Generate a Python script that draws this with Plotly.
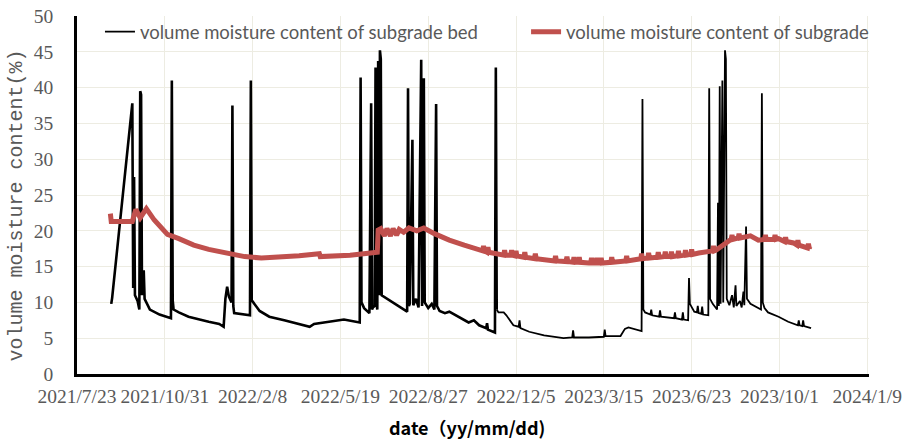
import plotly.graph_objects as go

# ---------------- data ----------------
bed_points = [
    ("2021-08-31", 9.8), ("2021-09-01", 10.6), ("2021-09-24", 37.8), ("2021-09-25", 12.0),
    ("2021-09-26", 27.5), ("2021-09-27", 11.0), ("2021-09-30", 10.2), ("2021-10-02", 9.0),
    ("2021-10-03", 39.5), ("2021-10-04", 39.0), ("2021-10-05", 11.0), ("2021-10-07", 14.5),
    ("2021-10-08", 10.5), ("2021-10-14", 9.0), ("2021-10-25", 8.3), ("2021-11-05", 7.9),
    ("2021-11-07", 7.8), ("2021-11-08", 41.0), ("2021-11-09", 10.3), ("2021-11-10", 9.0),
    ("2021-11-16", 8.6), ("2021-11-27", 8.0), ("2021-12-09", 7.6), ("2021-12-20", 7.3),
    ("2022-01-01", 7.0), ("2022-01-06", 6.6), ("2022-01-08", 10.5), ("2022-01-10", 12.2),
    ("2022-01-12", 10.8), ("2022-01-15", 10.0), ("2022-01-16", 37.5), ("2022-01-17", 9.5),
    ("2022-01-18", 8.5), ("2022-01-30", 8.3), ("2022-02-05", 8.2), ("2022-02-06", 41.0),
    ("2022-02-07", 10.3), ("2022-02-16", 8.8), ("2022-02-27", 8.0), ("2022-03-16", 7.5),
    ("2022-04-02", 7.0), ("2022-04-14", 6.6), ("2022-04-19", 7.0), ("2022-05-06", 7.3),
    ("2022-05-23", 7.6), ("2022-06-10", 7.2), ("2022-06-11", 41.4), ("2022-06-12", 10.0),
    ("2022-06-15", 9.2), ("2022-06-21", 8.5), ("2022-06-23", 37.8), ("2022-06-24", 9.0),
    ("2022-06-25", 9.3), ("2022-06-27", 9.5), ("2022-06-28", 42.8), ("2022-06-29", 10.0),
    ("2022-06-30", 9.0), ("2022-07-01", 43.7), ("2022-07-02", 11.0), ("2022-07-03", 45.2),
    ("2022-07-04", 44.0), ("2022-07-05", 11.0), ("2022-08-03", 8.7), ("2022-08-04", 39.9),
    ("2022-08-05", 9.5), ("2022-08-06", 9.8), ("2022-08-09", 32.7), ("2022-08-10", 9.6),
    ("2022-08-13", 10.5), ("2022-08-16", 9.3), ("2022-08-19", 43.9), ("2022-08-20", 9.5),
    ("2022-08-22", 41.3), ("2022-08-23", 10.0), ("2022-08-27", 9.2), ("2022-08-31", 9.8),
    ("2022-09-03", 9.0), ("2022-09-05", 37.7), ("2022-09-06", 9.5), ("2022-09-09", 8.8),
    ("2022-09-15", 8.5), ("2022-09-20", 8.7), ("2022-10-01", 8.0), ("2022-10-12", 7.2),
    ("2022-10-18", 7.5), ("2022-10-24", 6.8), ("2022-11-01", 6.4), ("2022-11-02", 7.1),
    ("2022-11-03", 6.2), ("2022-11-11", 5.8), ("2022-11-12", 42.8), ("2022-11-13", 9.0),
    ("2022-11-15", 8.6), ("2022-11-21", 8.6), ("2022-11-24", 8.2), ("2022-12-02", 6.8),
    ("2022-12-08", 6.6), ("2022-12-09", 7.5), ("2022-12-10", 6.4), ("2022-12-20", 5.9),
    ("2023-01-06", 5.4), ("2023-01-28", 5.0), ("2023-02-07", 5.1), ("2023-02-08", 6.1),
    ("2023-02-09", 5.1), ("2023-02-26", 5.1), ("2023-03-15", 5.2), ("2023-03-16", 6.2),
    ("2023-03-17", 5.3), ("2023-04-03", 5.3), ("2023-04-08", 6.3), ("2023-04-12", 6.5),
    ("2023-04-27", 6.0), ("2023-04-28", 38.4), ("2023-04-29", 9.0), ("2023-05-01", 8.6),
    ("2023-05-07", 8.3), ("2023-05-08", 9.0), ("2023-05-09", 8.2), ("2023-05-17", 8.0),
    ("2023-05-18", 8.9), ("2023-05-19", 8.0), ("2023-06-03", 7.8), ("2023-06-04", 8.6),
    ("2023-06-05", 7.8), ("2023-06-12", 7.6), ("2023-06-13", 8.6), ("2023-06-14", 7.6),
    ("2023-06-19", 7.5), ("2023-06-20", 13.4), ("2023-06-21", 9.8), ("2023-06-26", 8.7),
    ("2023-06-29", 8.6), ("2023-06-30", 9.5), ("2023-07-01", 8.5), ("2023-07-04", 8.4),
    ("2023-07-05", 9.4), ("2023-07-06", 8.3), ("2023-07-12", 8.2), ("2023-07-13", 39.9),
    ("2023-07-14", 10.5), ("2023-07-17", 9.8), ("2023-07-22", 9.0), ("2023-07-23", 23.9),
    ("2023-07-24", 9.5), ("2023-07-25", 40.2), ("2023-07-26", 9.8), ("2023-07-28", 41.0),
    ("2023-07-29", 10.0), ("2023-07-31", 45.2), ("2023-08-01", 44.0), ("2023-08-02", 10.5),
    ("2023-08-05", 9.6), ("2023-08-08", 11.0), ("2023-08-10", 9.3), ("2023-08-12", 12.4),
    ("2023-08-13", 9.5), ("2023-08-17", 10.2), ("2023-08-19", 9.3), ("2023-08-21", 11.5),
    ("2023-08-22", 9.6), ("2023-08-24", 20.6), ("2023-08-25", 10.5), ("2023-08-29", 9.8),
    ("2023-09-05", 9.4), ("2023-09-10", 9.0), ("2023-09-11", 39.2), ("2023-09-12", 10.0),
    ("2023-09-14", 9.2), ("2023-09-18", 8.6), ("2023-09-30", 8.0), ("2023-10-11", 7.3),
    ("2023-10-22", 6.8), ("2023-10-23", 7.5), ("2023-10-24", 6.8), ("2023-10-27", 6.7),
    ("2023-10-28", 7.5), ("2023-10-29", 6.7), ("2023-11-06", 6.4),
]

sub_points = [
    ("2021-08-30", 22.4), ("2021-08-31", 21.3), ("2021-09-24", 21.3), ("2021-09-28", 23.0),
    ("2021-10-03", 21.8), ("2021-10-10", 23.1), ("2021-10-19", 21.5), ("2021-11-03", 19.5),
    ("2021-11-16", 18.9), ("2021-12-03", 18.0), ("2021-12-20", 17.4), ("2022-01-10", 16.9),
    ("2022-01-30", 16.4), ("2022-02-18", 16.2), ("2022-03-10", 16.3), ("2022-04-02", 16.5),
    ("2022-04-25", 16.8), ("2022-04-26", 16.4), ("2022-05-30", 16.6), ("2022-06-30", 17.0),
    ("2022-07-01", 20.1), ("2022-07-04", 20.3), ("2022-07-08", 19.3), ("2022-07-11", 20.3),
    ("2022-07-15", 19.3), ("2022-07-18", 20.3), ("2022-07-22", 19.4), ("2022-07-25", 20.2),
    ("2022-07-30", 19.8), ("2022-08-05", 20.4), ("2022-08-14", 20.0), ("2022-08-22", 20.4),
    ("2022-09-03", 19.6), ("2022-09-20", 18.7), ("2022-10-07", 18.0), ("2022-10-24", 17.3),
    ("2022-10-28", 17.2), ("2022-10-29", 17.9), ("2022-10-30", 17.2),
    ("2022-11-02", 17.0), ("2022-11-03", 17.7), ("2022-11-04", 17.0),
    ("2022-11-10", 16.8),
    ("2022-11-21", 16.6), ("2022-11-22", 17.3), ("2022-11-23", 16.6),
    ("2022-11-29", 16.6), ("2022-11-30", 17.3), ("2022-12-01", 16.6),
    ("2022-12-04", 16.5), ("2022-12-05", 17.2), ("2022-12-06", 16.5),
    ("2022-12-14", 16.3), ("2022-12-15", 17.0), ("2022-12-16", 16.3),
    ("2022-12-26", 16.1), ("2022-12-27", 16.8), ("2022-12-28", 16.1),
    ("2023-01-18", 15.8), ("2023-01-19", 16.5), ("2023-01-20", 15.8),
    ("2023-01-31", 15.7), ("2023-02-01", 16.4), ("2023-02-02", 15.7),
    ("2023-02-08", 15.6), ("2023-02-09", 16.3), ("2023-02-10", 15.6),
    ("2023-02-14", 15.6), ("2023-02-15", 16.3), ("2023-02-16", 15.6),
    ("2023-02-26", 15.5),
    ("2023-02-28", 15.5), ("2023-03-01", 16.2), ("2023-03-02", 15.5),
    ("2023-03-06", 15.5), ("2023-03-07", 16.2), ("2023-03-08", 15.5),
    ("2023-03-11", 15.5), ("2023-03-12", 16.2), ("2023-03-13", 15.5),
    ("2023-03-23", 15.6), ("2023-03-24", 16.3), ("2023-03-25", 15.6),
    ("2023-04-09", 15.8), ("2023-04-10", 16.5), ("2023-04-11", 15.8),
    ("2023-04-26", 16.1), ("2023-04-27", 16.8), ("2023-04-28", 16.1),
    ("2023-05-04", 16.2), ("2023-05-05", 16.9), ("2023-05-06", 16.2),
    ("2023-05-15", 16.3), ("2023-05-16", 17.0), ("2023-05-17", 16.3),
    ("2023-05-23", 16.4), ("2023-05-24", 17.1), ("2023-05-25", 16.4),
    ("2023-05-30", 16.4), ("2023-05-31", 17.1), ("2023-06-01", 16.4),
    ("2023-06-07", 16.5), ("2023-06-08", 17.2), ("2023-06-09", 16.5),
    ("2023-06-15", 16.6), ("2023-06-16", 17.3), ("2023-06-17", 16.6),
    ("2023-06-22", 16.7), ("2023-06-23", 17.4), ("2023-06-24", 16.7),
    ("2023-07-01", 16.9),
    ("2023-07-17", 17.2), ("2023-07-18", 17.9), ("2023-07-19", 17.2),
    ("2023-07-21", 17.3), ("2023-08-02", 18.5),
    ("2023-08-07", 18.8), ("2023-08-08", 19.4), ("2023-08-09", 18.8),
    ("2023-08-15", 19.0), ("2023-08-16", 19.6), ("2023-08-17", 19.0),
    ("2023-08-29", 19.3), ("2023-09-07", 18.7),
    ("2023-09-14", 18.8), ("2023-09-15", 19.4), ("2023-09-16", 18.8),
    ("2023-09-25", 18.8), ("2023-09-26", 19.4), ("2023-09-27", 18.8),
    ("2023-09-30", 18.9),
    ("2023-10-07", 18.5), ("2023-10-08", 19.1), ("2023-10-09", 18.5),
    ("2023-10-17", 18.3),
    ("2023-10-21", 18.0), ("2023-10-22", 18.7), ("2023-10-23", 18.0),
    ("2023-11-02", 17.6), ("2023-11-03", 18.2), ("2023-11-04", 17.6),
    ("2023-11-05", 17.8),
]

# the sensor record is denser (drawn heavier) up to this date
dense_until = "2022-11-13"

tick_dates = ["2021-07-23", "2021-10-31", "2022-02-08", "2022-05-19", "2022-08-27",
              "2022-12-05", "2023-03-15", "2023-06-23", "2023-10-01", "2024-01-09"]
tick_labels = ["2021/7/23", "2021/10/31", "2022/2/8", "2022/5/19", "2022/8/27",
               "2022/12/5", "2023/3/15", "2023/6/23", "2023/10/1", "2024/1/9"]
y_ticks = [0, 5, 10, 15, 20, 25, 30, 35, 40, 45, 50]

name_bed = "volume moisture content of subgrade bed"
name_sub = "volume moisture content of subgrade"
x_title = "date（yy/mm/dd)"
y_title = "volume moisture content(%)"

bed_a = [(d, v) for d, v in bed_points if d <= dense_until]
bed_b = [(d, v) for d, v in bed_points if d >= dense_until]
sub_dates = [d for d, _ in sub_points]
sub_values = [v for _, v in sub_points]

# ---------------- figure ----------------
fig = go.Figure()
fig.add_trace(go.Scatter(
    x=[d for d, _ in bed_a], y=[v for _, v in bed_a], mode="lines", showlegend=False,
    line=dict(color="#000000", width=2.6),
))
fig.add_trace(go.Scatter(
    x=[d for d, _ in bed_b], y=[v for _, v in bed_b], mode="lines", showlegend=False,
    line=dict(color="#000000", width=1.8),
))
fig.add_trace(go.Scatter(
    x=[None], y=[None], mode="lines", name=name_bed, legend="legend",
    line=dict(color="#000000", width=1.6),
))
fig.add_trace(go.Scatter(
    x=sub_dates, y=sub_values, mode="lines", name=name_sub, legend="legend2",
    line=dict(color="#C0504D", width=5),
))

grid = "#EDECE2"
tick_font = dict(family="Liberation Serif", size=19.5, color="#595959")
legend_font = dict(family="Lato", size=18.5, color="#595959")

fig.update_layout(
    width=903, height=440,
    margin=dict(l=77, r=34, t=16, b=66, autoexpand=False),
    paper_bgcolor="white", plot_bgcolor="white",
    showlegend=True,
    legend=dict(x=0.029, y=1.008, xanchor="left", yanchor="top",
                bgcolor="rgba(0,0,0,0)", font=legend_font),
    legend2=dict(x=0.567, y=1.008, xanchor="left", yanchor="top",
                 bgcolor="rgba(0,0,0,0)", font=legend_font),
    xaxis=dict(
        type="date", range=["2021-07-23", "2024-01-11"],
        tickmode="array", tickvals=tick_dates, ticktext=tick_labels, tickangle=0,
        tickfont=tick_font, showgrid=True, gridcolor=grid, gridwidth=1,
        showline=True, linecolor="#000000", linewidth=2.5, zeroline=False,
        ticks="", ticklabelstandoff=3, ticklabeloverflow="allow",
    ),
    yaxis=dict(
        range=[0, 50], tickmode="array", tickvals=y_ticks,
        tickfont=tick_font, showgrid=True, gridcolor=grid, gridwidth=1,
        showline=True, linecolor="#000000", linewidth=2.5, zeroline=False,
        ticks="", ticklabelstandoff=17,
    ),
    annotations=[
        dict(text=y_title, textangle=-90, xref="paper", yref="paper",
             x=-0.0765, y=0.472, xanchor="center", yanchor="middle", showarrow=False,
             font=dict(family="Liberation Mono", size=20, color="#595959")),
        dict(text=x_title, xref="paper", yref="paper",
             x=0.492, y=-0.148, xanchor="center", yanchor="middle", showarrow=False,
             font=dict(family="Noto Sans CJK SC", size=18, color="#000000", weight="bold")),
    ],
)

fig.write_html("out.html", config={"displayModeBar": False},
               post_script="document.body.style.margin='0px';")
